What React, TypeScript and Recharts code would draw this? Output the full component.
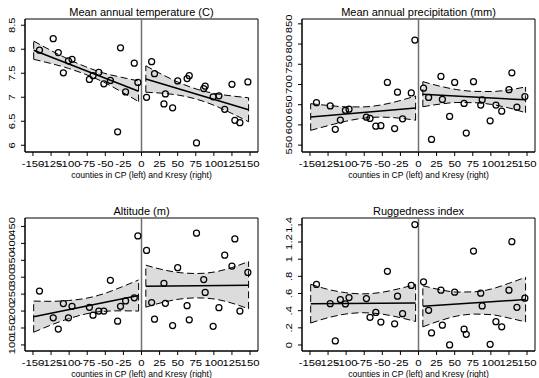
import React from "react";
import {
  ComposedChart,
  XAxis,
  YAxis,
  Area,
  Line,
  Scatter,
  ReferenceLine,
  ReferenceArea,
} from "recharts";

// running variable (km to the border), same counties in every panel
const countyLeft = [-141, -122, -115, -108, -101, -96, -72, -67, -59, -52, -43, -33, -29, -22, -10, -5];
const countyRight = [7, 14, 18, 31, 33, 43, 50, 63, 66, 76, 86, 88, 99, 107, 115, 125, 129, 136, 147];
const xTicks = [-150, -125, -100, -75, -50, -25, 0, 25, 50, 75, 100, 125, 150];

// x positions where the confidence bands were read
const bandXLeft = [-149, -125, -101, -77, -52, -28, -4];
const bandXRight = [6, 30, 53, 77, 101, 124, 148];

// Mean annual temperature
const tempLeft = [7.98, 8.22, 7.93, 7.51, 7.76, 7.79, 7.37, 7.45, 7.52, 7.28, 7.35, 6.28, 8.03, 7.11, 7.71, 7.31];
const tempRight = [7.0, 7.74, 7.49, 6.86, 7.07, 6.78, 7.34, 7.39, 7.45, 6.05, 7.18, 7.23, 7.01, 7.03, 6.75, 7.27, 6.52, 6.47, 7.32];
const tempFitLeft = [7.98, 7.125];
const tempFitRight = [7.38, 6.74];
const tempHiLeft = [8.17, 7.973, 7.792, 7.635, 7.503, 7.417, 7.34];
const tempLoLeft = [7.79, 7.703, 7.602, 7.475, 7.313, 7.117, 6.91];
const tempHiRight = [7.655, 7.462, 7.299, 7.166, 7.078, 7.029, 6.99];
const tempLoRight = [7.105, 7.082, 7.039, 6.956, 6.828, 6.669, 6.49];
const tempTicks = [6, 6.5, 7, 7.5, 8, 8.5];

// Mean annual precipitation
const precLeft = [655, 647, 589, 612, 636, 639, 619, 616, 597, 598, 705, 591, 681, 615, 679, 810];
const precRight = [691, 668, 564, 720, 663, 621, 705, 653, 580, 707, 649, 662, 610, 649, 634, 687, 729, 644, 670];
const precFitLeft = [619.5, 641.6];
const precFitRight = [676, 662];
const precHiLeft = [652.5, 648.2, 644.8, 644.5, 649.3, 659.0, 671.6];
const precLoLeft = [586.5, 598.2, 608.8, 616.5, 619.3, 617.0, 611.6];
const precHiRight = [707, 695.6, 687.4, 683, 682.6, 686.4, 694];
const precLoRight = [645, 651.6, 655.4, 655, 650.6, 642.4, 630];
const precTicks = [550, 600, 650, 700, 750, 800, 850];

// Altitude
const altLeft = [259, 180, 147, 222, 180, 214, 211, 188, 200, 200, 291, 170, 214, 230, 239, 422];
const altRight = [379, 225, 176, 282, 223, 157, 328, 216, 174, 430, 293, 255, 155, 210, 365, 333, 413, 200, 314];
const altFitLeft = [183.5, 246];
const altFitRight = [273.5, 276.5];
const altHiLeft = [229.5, 228.8, 231.2, 237.5, 251.3, 270.7, 292];
const altLoLeft = [137.5, 158.8, 177.2, 191.5, 199.3, 200.7, 200];
const altHiRight = [335.5, 322, 313.5, 311, 315.5, 328, 346.5];
const altLoRight = [211.5, 226, 235.5, 239, 235.5, 224, 206.5];
const altTicks = [100, 150, 200, 250, 300, 350, 400, 450];

// Ruggedness index
const rugLeft = [0.706, 0.482, 0.047, 0.529, 0.478, 0.553, 0.541, 0.322, 0.38, 0.267, 0.859, 0.247, 0.569, 0.365, 0.694, 1.404];
const rugRight = [0.737, 0.404, 0.141, 0.639, 0.231, 0.0, 0.616, 0.184, 0.125, 1.094, 0.604, 0.455, 0.008, 0.271, 0.212, 0.639, 1.204, 0.439, 0.545];
const rugFitLeft = [0.482, 0.49];
const rugFitRight = [0.451, 0.529];
const rugHiLeft = [0.708, 0.648, 0.61, 0.596, 0.612, 0.654, 0.706];
const rugLoLeft = [0.256, 0.318, 0.36, 0.376, 0.362, 0.324, 0.274];
const rugHiRight = [0.691, 0.644, 0.617, 0.62, 0.653, 0.716, 0.789];
const rugLoRight = [0.211, 0.284, 0.337, 0.36, 0.353, 0.316, 0.269];
const rugTicks = [0, 0.2, 0.4, 0.6, 0.8, 1, 1.2, 1.4];

const FONT = "'Liberation Sans', Arial, Helvetica, sans-serif";
const X_DOMAIN: [number, number] = [-161, 161];
const CHART_H = 179;

const zip = (xs: number[], ys: number[]) => xs.map((x, i) => ({ x, y: ys[i] }));
const band = (xs: number[], lo: number[], hi: number[]) =>
  xs.map((x, i) => ({ x, band: [lo[i], hi[i]] }));
const ends = (xs: number[], fit: number[]) => [
  { x: xs[0], y: fit[0] },
  { x: xs[xs.length - 1], y: fit[1] },
];

// tick labels in the original are wide and flat, so stretch them along the text
const XTick = (props: any) => {
  const { x, y, payload } = props;
  return (
    <g transform={`translate(${x},${y})`}>
      <text x={0} y={0} dy="0.71em" transform="scale(1.38,1)" textAnchor="middle" fontSize={8.2} fill="#000" fontFamily={FONT}>
        {payload.value}
      </text>
    </g>
  );
};

const YTick = (props: any) => {
  const { x, y, payload, fmt } = props;
  return (
    <g transform={`translate(${x},${y}) rotate(-90)`}>
      <text x={0} y={0} transform="scale(1.38,1)" textAnchor="middle" fontSize={8.2} fill="#000" fontFamily={FONT}>
        {fmt(payload.value)}
      </text>
    </g>
  );
};

const Circle = (p: any) => (
  <circle cx={p.cx} cy={p.cy} r={3} fill="none" stroke="#000" strokeWidth={1.25} />
);

interface PanelProps {
  left: number;
  top: number;
  width: number;
  title: string;
  yDomain: [number, number];
  yTicks: number[];
  fmt?: (v: number) => string;
  ptsL: number[];
  ptsR: number[];
  fitL: number[];
  fitR: number[];
  hiL: number[];
  loL: number[];
  hiR: number[];
  loR: number[];
}

function Panel(p: PanelProps) {
  const fmt = p.fmt ?? ((v: number) => String(v));
  const plotRight = 258;
  const cx = p.left + (25 + plotRight) / 2;
  const bandL = band(bandXLeft, p.loL, p.hiL);
  const bandR = band(bandXRight, p.loR, p.hiR);
  const caps = [
    { x: bandXLeft[0], lo: p.loL[0], hi: p.hiL[0] },
    { x: bandXLeft[bandXLeft.length - 1], lo: p.loL[p.loL.length - 1], hi: p.hiL[p.hiL.length - 1] },
    { x: bandXRight[0], lo: p.loR[0], hi: p.hiR[0] },
    { x: bandXRight[bandXRight.length - 1], lo: p.loR[p.loR.length - 1], hi: p.hiR[p.hiR.length - 1] },
  ];
  return (
    <>
      <div
        style={{
          position: "absolute",
          left: cx - 130,
          width: 260,
          top: p.top + 5.6,
          textAlign: "center",
          fontSize: 11,
          lineHeight: "13px",
          fontFamily: FONT,
          color: "#000",
        }}
      >
        {p.title}
      </div>
      <div style={{ position: "absolute", left: p.left, top: p.top, width: p.width, height: CHART_H }}>
        <ComposedChart
          width={p.width}
          height={CHART_H}
          margin={{ top: 19, right: p.width - plotRight, left: 0, bottom: 0 }}
        >
          <XAxis
            dataKey="x"
            type="number"
            domain={X_DOMAIN}
            ticks={xTicks}
            interval={0}
            allowDataOverflow
            height={27}
            tickSize={4}
            tickMargin={5}
            stroke="#000"
            tick={<XTick />}
          />
          <YAxis
            type="number"
            domain={p.yDomain}
            ticks={p.yTicks}
            interval={0}
            allowDataOverflow
            width={25}
            tickSize={4}
            tickMargin={6}
            stroke="#000"
            tick={<YTick fmt={fmt} />}
          />
          <ReferenceArea
            x1={X_DOMAIN[0]}
            x2={X_DOMAIN[1]}
            y1={p.yDomain[0]}
            y2={p.yDomain[1]}
            fill="none"
            stroke="#000"
            strokeWidth={1}
          />
          <Area data={bandL} dataKey="band" type="monotone" fill="#dcdcdc" fillOpacity={1} stroke="#000" strokeWidth={1} strokeDasharray="7 3.5" dot={false} activeDot={false} isAnimationActive={false} />
          <Area data={bandR} dataKey="band" type="monotone" fill="#dcdcdc" fillOpacity={1} stroke="#000" strokeWidth={1} strokeDasharray="7 3.5" dot={false} activeDot={false} isAnimationActive={false} />
          {caps.map((c, i) => (
            <ReferenceLine
              key={i}
              segment={[
                { x: c.x, y: c.lo },
                { x: c.x, y: c.hi },
              ]}
              stroke="#000"
              strokeWidth={1}
              strokeDasharray="7 3.5"
            />
          ))}
          <Line data={ends(bandXLeft, p.fitL)} dataKey="y" stroke="#000" strokeWidth={1.5} dot={false} activeDot={false} isAnimationActive={false} />
          <Line data={ends(bandXRight, p.fitR)} dataKey="y" stroke="#000" strokeWidth={1.5} dot={false} activeDot={false} isAnimationActive={false} />
          <ReferenceLine x={0} stroke="#707070" strokeWidth={1.5} />
          <Scatter data={zip(countyLeft, p.ptsL)} dataKey="y" shape={Circle} isAnimationActive={false} />
          <Scatter data={zip(countyRight, p.ptsR)} dataKey="y" shape={Circle} isAnimationActive={false} />
        </ComposedChart>
      </div>
      <div
        style={{
          position: "absolute",
          left: cx - 130,
          width: 260,
          top: p.top + 169.5,
          textAlign: "center",
          fontSize: 8.6,
          lineHeight: "10px",
          fontFamily: FONT,
          color: "#000",
        }}
      >
        counties in CP (left) and Kresy (right)
      </div>
    </>
  );
}

const rugFmt = (v: number) => (v === 0 ? "0" : String(v).replace(/^0\./, "."));

export default function App() {
  return (
    <div
      style={{
        position: "absolute",
        left: 0,
        top: 0,
        width: 539,
        height: 378,
        background: "#fff",
        overflow: "hidden",
      }}
    >
      <Panel
        left={0}
        top={0}
        width={270}
        title="Mean annual temperature (C)"
        yDomain={[5.86, 8.63]}
        yTicks={tempTicks}
        ptsL={tempLeft}
        ptsR={tempRight}
        fitL={tempFitLeft}
        fitR={tempFitRight}
        hiL={tempHiLeft}
        loL={tempLoLeft}
        hiR={tempHiRight}
        loR={tempLoRight}
      />
      <Panel
        left={277}
        top={0}
        width={262}
        title="Mean annual precipitation (mm)"
        yDomain={[533, 862]}
        yTicks={precTicks}
        ptsL={precLeft}
        ptsR={precRight}
        fitL={precFitLeft}
        fitR={precFitRight}
        hiL={precHiLeft}
        loL={precLoLeft}
        hiR={precHiRight}
        loR={precLoRight}
      />
      <Panel
        left={0}
        top={199}
        width={270}
        title="Altitude (m)"
        yDomain={[82, 475]}
        yTicks={altTicks}
        ptsL={altLeft}
        ptsR={altRight}
        fitL={altFitLeft}
        fitR={altFitRight}
        hiL={altHiLeft}
        loL={altLoLeft}
        hiR={altHiRight}
        loR={altLoRight}
      />
      <Panel
        left={277}
        top={199}
        width={262}
        title="Ruggedness index"
        yDomain={[-0.07, 1.48]}
        yTicks={rugTicks}
        fmt={rugFmt}
        ptsL={rugLeft}
        ptsR={rugRight}
        fitL={rugFitLeft}
        fitR={rugFitRight}
        hiL={rugHiLeft}
        loL={rugLoLeft}
        hiR={rugHiRight}
        loR={rugLoRight}
      />
    </div>
  );
}
